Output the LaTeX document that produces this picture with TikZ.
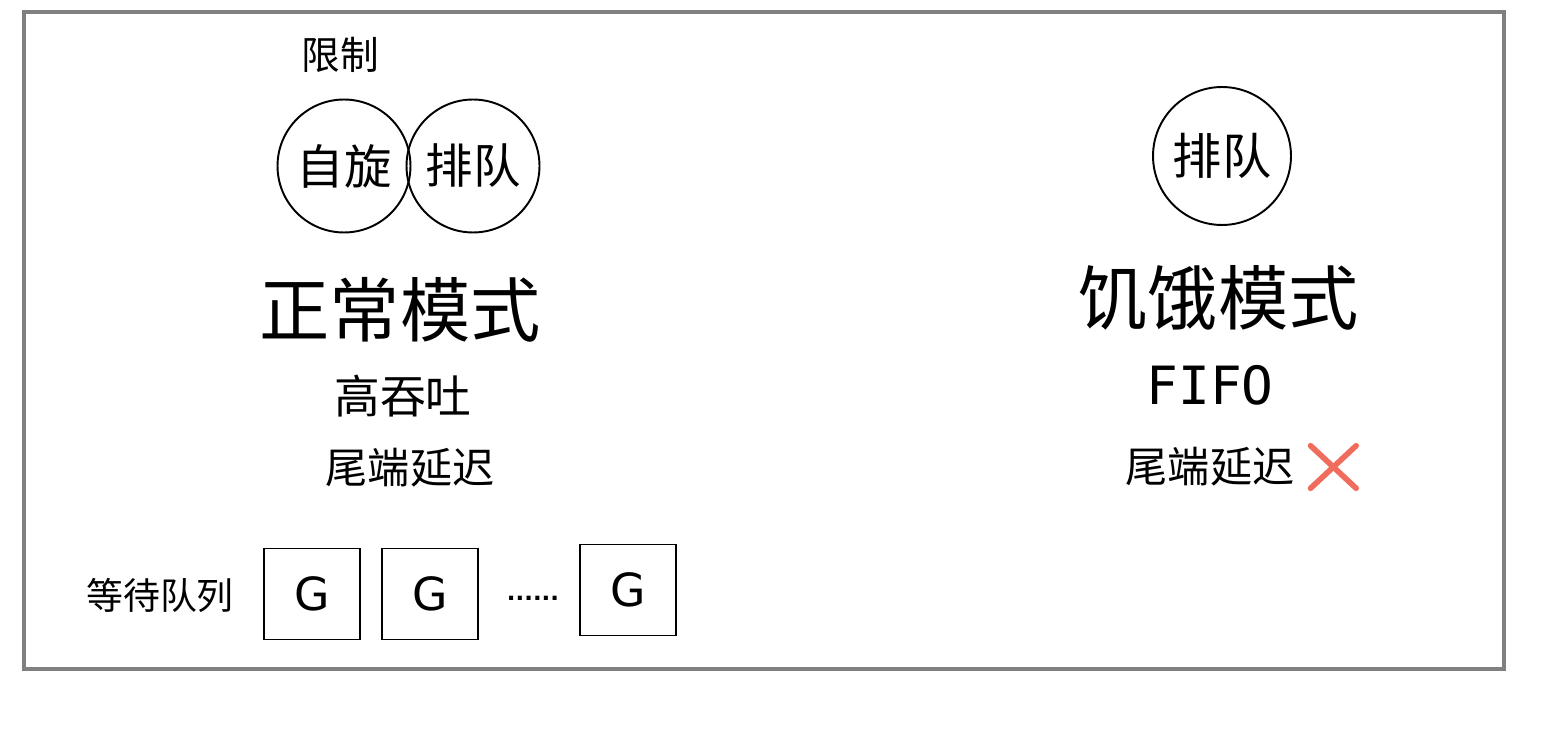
\documentclass[tikz,border=0pt]{standalone}
\usepackage{fontspec}
\usepackage{xcolor}
\newfontfamily\cjk{Noto Sans CJK SC}
\newfontfamily\gfont{DejaVu Sans}
\newfontfamily\latinmono{DejaVu Sans Mono}
\usetikzlibrary{positioning, shapes.misc}

\definecolor{framegray}{RGB}{128,128,128}
\definecolor{crossred}{RGB}{240,108,92}
\newcommand{\fsz}[1]{\fontsize{#1}{#1}\selectfont}

\begin{document}
\begin{tikzpicture}[
    x=0.02cm, y=-0.02cm,
    font=\cjk,
    node distance=2mm and 2mm,
    lock/.style={draw, circle, line width=1.1pt, minimum size=2.66cm, inner sep=0pt, font=\cjk\fsz{27}},
    gbox/.style={draw, line width=1pt, minimum width=1.92cm, minimum height=1.82cm, inner sep=0pt, font=\gfont\fsz{26}},
    modetitle/.style={font=\cjk\fsz{40}},
    note/.style={font=\cjk\fsz{24}},
    frame/.style={draw=framegray, line width=1.8pt}
]
\useasboundingbox (0,0) rectangle (1559,736);
\draw[frame] (24,12) rectangle (1504,669);

% normal mode
\node[lock] (spin) at (344,166) {自旋};
\node[lock] (queueL) at (473,166) {排队};
\node[font=\cjk\fsz{22}] (limit) at (340,55) {限制};
\node[modetitle] (normal) at (400,310) {正常模式};
\node[note, font=\cjk\fsz{26}] (throughput) at (403,396) {高吞吐};
\node[note] (tailL) at (410,468) {尾端延迟};

% waiting queue
\node[font=\cjk\fsz{21}] (waitq) at (160,595) {等待队列};
\node[gbox] (g1) at (312,594) {G};
\node[gbox] (g2) at (430,594) {G};
\node[font=\gfont\bfseries\fsz{13}] (dots) at (533,598) {......};
\node[gbox] (g3) at (628,590) {G};

% starvation mode
\node[lock, minimum size=2.76cm, font=\cjk\fsz{28}] (queueR) at (1222,156) {排队};
\node[modetitle] (starve) at (1218,298) {饥饿模式};
\node[font=\latinmono\fsz{30}] (fifo) at (1210,385) {FIFO};
\node[note] (tailR) at (1210,467) {尾端延迟};
\node[cross out, draw=crossred, line width=3.2pt, line cap=round, minimum width=0.8cm, minimum height=0.74cm, inner sep=0pt, right=0.2cm of tailR] (nope) {};

\end{tikzpicture}
\end{document}
